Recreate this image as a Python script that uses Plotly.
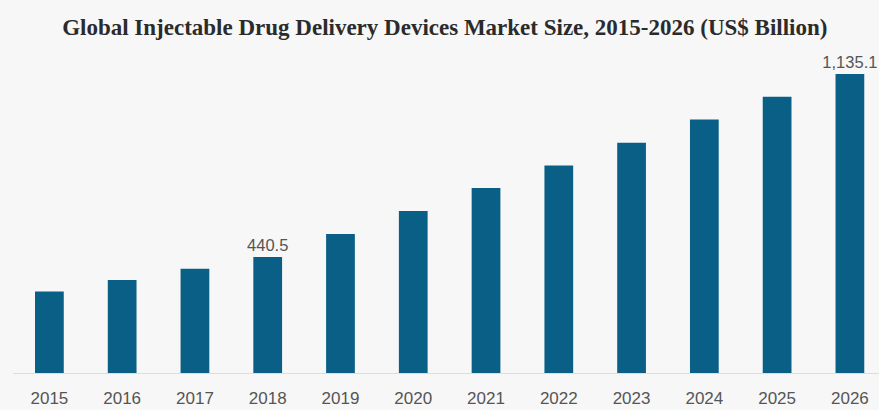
import plotly.graph_objects as go

years = ["2015", "2016", "2017", "2018", "2019", "2020", "2021", "2022", "2023", "2024", "2025", "2026"]
market_size = [309, 353, 396, 440.5, 528, 615, 702, 788, 874, 962, 1049, 1135.1]
labeled_years = ["2018", "2026"]

labels = [f"{v:,.1f}" if y in labeled_years else "" for y, v in zip(years, market_size)]

fig = go.Figure(
    go.Bar(
        x=years,
        y=market_size,
        marker=dict(color="#0a5f87", line=dict(width=0)),
        text=labels,
        textposition="outside",
        constraintext="none",
        textfont=dict(family="Liberation Sans, Arial, sans-serif", size=16.5, color="#555555"),
        cliponaxis=False,
        hoverinfo="x+y",
    )
)

fig.update_layout(
    width=879,
    height=410,
    margin=dict(l=13, r=0, t=50, b=37),
    paper_bgcolor="#f7f7f7",
    plot_bgcolor="#f7f7f7",
    bargap=0.605,
    showlegend=False,
    title=dict(
        text="<b>Global Injectable Drug Delivery Devices Market Size, 2015-2026 (US$ Billion)</b>",
        x=0.506,
        xanchor="center",
        y=0.935,
        yanchor="middle",
        font=dict(family="Liberation Serif, Times New Roman, serif", size=23, color="#2b2b2b"),
    ),
    xaxis=dict(
        range=[-0.5, 11.4],
        showgrid=False,
        showline=True,
        linecolor="#dddddd",
        linewidth=1,
        ticks="",
        ticklabelstandoff=10,
        tickfont=dict(family="Liberation Sans, Arial, sans-serif", size=17, color="#555555"),
        fixedrange=True,
    ),
    yaxis=dict(
        range=[0, 1226],
        visible=False,
        showgrid=False,
        zeroline=False,
        fixedrange=True,
    ),
)

fig.write_html("out.html")
